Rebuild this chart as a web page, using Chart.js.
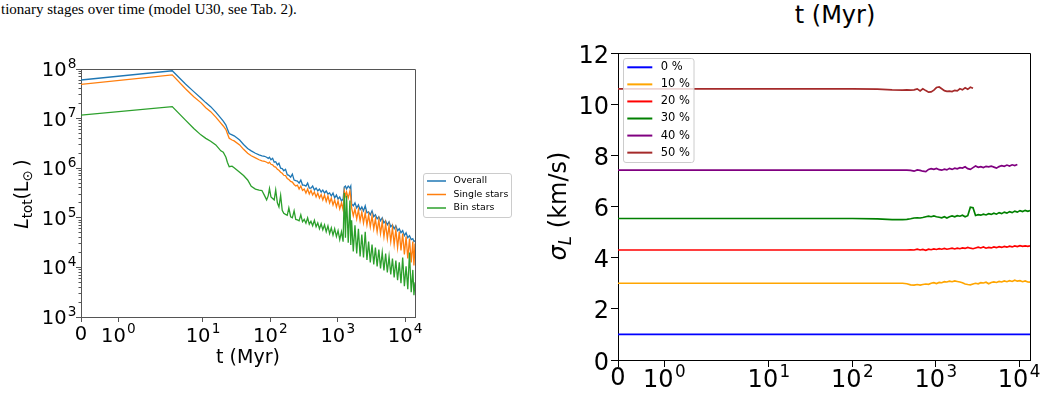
<!DOCTYPE html>
<html><head><meta charset="utf-8">
<script src="https://cdn.jsdelivr.net/npm/chart.js@4.4.1/dist/chart.umd.min.js"></script>
<style>
html,body{margin:0;padding:0;background:#fff;}
body{width:1046px;height:394px;position:relative;overflow:hidden;}
#caption{position:absolute;left:1px;top:2px;font:15px/15px "Liberation Serif";white-space:nowrap;color:#000;}
#toptitle{position:absolute;top:3px;left:835px;transform:translateX(-50%);font:24px/24px "DejaVu Sans";white-space:nowrap;color:#000;}
#lumWrap{position:absolute;left:0;top:0;width:530px;height:394px;}
#velWrap{position:absolute;left:530px;top:0;width:516px;height:394px;}
canvas{display:block;}
</style></head><body>
<div id="caption">tionary stages over time (model U30, see Tab. 2).</div>
<div id="toptitle">t (Myr)</div>
<div id="lumWrap"><canvas id="lum" width="530" height="394"></canvas></div>
<div id="velWrap"><canvas id="vel" width="516" height="394"></canvas></div>
<script>
// ---------------- DATA ----------------
const timeTickValues = [0, 1, 10, 100, 1000, 10000];
const timeTickLabels = ['0', '10^0', '10^1', '10^2', '10^3', '10^4'];
const lumTickValues = [1e3, 1e4, 1e5, 1e6, 1e7, 1e8];
const lumTickLabels = ['10^3', '10^4', '10^5', '10^6', '10^7', '10^8'];
const velTickValues = [0, 2, 4, 6, 8, 10, 12];
const velTickLabels = ['0', '2', '4', '6', '8', '10', '12'];

const lumLabels = ['Overall', 'Single stars', 'Bin stars'];
const lumTimes = [0, 3.5, 5.5, 7.3, 9.3, 11, 13, 15.5, 18.4, 20,
  21.9, 23, 24.5, 27, 29, 35, 40, 46, 52, 60,
  68, 75, 82, 88, 93, 97, 102, 108, 114, 120,
  127, 134, 142, 150, 158, 168, 178, 188, 200, 212,
  225, 238, 252, 267, 283, 300, 318, 337, 357, 378,
  400, 424, 450, 477, 505, 535, 567, 600, 636, 674,
  715, 757, 802, 850, 900, 955, 1010, 1070, 1135, 1200,
  1250, 1300, 1350, 1430, 1515, 1560, 1605, 1700, 1800, 1910,
  2025, 2145, 2275, 2410, 2555, 2710, 2870, 3040, 3225, 3420,
  3620, 3840, 4070, 4310, 4570, 4845, 5135, 5440, 5770, 6115,
  6480, 6870, 7280, 7720, 8180, 8670, 9190, 9740, 10320, 10940,
  11600, 12300, 13000, 13500, 14000];
const overallLum = [6.0e7, 9.2e7, 5.0e7, 3.5e7, 2.6e7, 2.1e7, 1.74e7, 1.35e7, 1.02e7, 8.9e6,
  7.4e6, 6.2e6, 5.0e6, 4.7e6, 4.5e6, 3.7e6, 3.0e6, 2.5e6, 2.24e6, 2.0e6,
  1.86e6, 1.78e6, 1.74e6, 1.66e6, 1.58e6, 1.66e6, 1.48e6, 1.58e6, 1.32e6, 1.35e6,
  1.17e6, 1.26e6, 1.0e6, 9.8e5, 8.9e5, 9.5e5, 7.4e5, 7.2e5, 6.6e5, 7.6e5,
  5.75e5, 5.6e5, 5.5e5, 5.0e5, 5.75e5, 4.57e5, 4.57e5, 4.37e5, 5.0e5, 3.98e5,
  3.98e5, 4.37e5, 3.63e5, 3.98e5, 3.47e5, 3.8e5, 3.31e5, 3.63e5, 3.16e5, 3.47e5,
  3.02e5, 3.16e5, 2.75e5, 3.16e5, 2.51e5, 2.88e5, 2.4e5, 2.63e5, 2.19e5, 2.4e5,
  4.17e5, 4.37e5, 3.8e5, 4.37e5, 3.98e5, 4.37e5, 1.91e5, 1.74e5, 2.0e5, 1.58e5,
  1.82e5, 1.45e5, 1.66e5, 1.38e5, 1.74e5, 1.26e5, 1.32e5, 1.15e5, 1.38e5, 1.05e5,
  1.15e5, 9.55e4, 1.05e5, 8.7e4, 1.0e5, 7.9e4, 8.7e4, 7.2e4, 8.3e4, 6.6e4,
  7.2e4, 6.0e4, 6.9e4, 5.5e4, 6.0e4, 5.0e4, 5.5e4, 4.37e4, 5.0e4, 3.98e4,
  4.37e4, 3.63e4, 3.8e4, 3.31e4, 3.47e4];
const singleLum = [4.9e7, 7.6e7, 4.0e7, 2.75e7, 2.1e7, 1.66e7, 1.38e7, 1.07e7, 8.1e6, 7.1e6,
  6.0e6, 5.0e6, 4.0e6, 3.7e6, 3.55e6, 2.95e6, 2.4e6, 2.0e6, 1.78e6, 1.62e6,
  1.48e6, 1.41e6, 1.38e6, 1.32e6, 1.26e6, 1.32e6, 1.2e6, 1.17e6, 1.07e6, 1.05e6,
  9.5e5, 9.1e5, 8.3e5, 7.9e5, 7.2e5, 7.1e5, 6.2e5, 5.9e5, 5.4e5, 5.25e5,
  4.7e5, 4.37e5, 4.57e5, 3.8e5, 4.37e5, 3.55e5, 3.8e5, 3.16e5, 3.8e5, 3.02e5,
  3.55e5, 2.88e5, 3.31e5, 2.63e5, 3.16e5, 2.51e5, 2.95e5, 2.29e5, 2.88e5, 2.14e5,
  2.75e5, 2.0e5, 2.51e5, 1.82e5, 2.29e5, 1.66e5, 2.19e5, 1.51e5, 2.0e5, 1.45e5,
  3.47e5, 2.75e5, 3.31e5, 2.51e5, 3.47e5, 2.63e5, 1.58e5, 1.1e5, 1.51e5, 9.55e4,
  1.45e5, 8.7e4, 1.32e5, 7.9e4, 1.26e5, 7.2e4, 1.15e5, 6.6e4, 1.1e5, 6.0e4,
  9.55e4, 5.25e4, 9.1e4, 4.8e4, 8.3e4, 4.17e4, 7.6e4, 3.8e4, 6.9e4, 3.31e4,
  6.3e4, 2.88e4, 5.75e4, 2.51e4, 5.25e4, 2.19e4, 4.8e4, 1.82e4, 4.17e4, 1.51e4,
  3.8e4, 1.26e4, 3.31e4, 1.1e4, 3.02e4];
const binLum = [1.17e7, 1.74e7, 9.3e6, 6.3e6, 4.7e6, 4.0e6, 3.5e6, 2.95e6, 2.24e6, 2.1e6,
  1.66e6, 1.32e6, 1.07e6, 1.1e6, 1.02e6, 8.3e5, 7.1e5, 5.8e5, 4.3e5, 3.8e5,
  3.6e5, 3.55e5, 2.8e5, 2.3e5, 2.8e5, 3.9e5, 2.63e5, 2.45e5, 2.29e5, 3.63e5,
  2.0e5, 1.66e5, 2.82e5, 1.41e5, 1.23e5, 1.17e5, 1.12e5, 1.58e5, 1.05e5, 1.0e5,
  1.38e5, 9.3e4, 9.1e4, 8.7e4, 1.15e5, 8.3e4, 9.3e4, 7.8e4, 1.0e5, 7.4e4,
  8.5e4, 6.9e4, 8.9e4, 6.6e4, 7.9e4, 6.0e4, 7.6e4, 5.75e4, 7.2e4, 5.25e4,
  6.9e4, 4.8e4, 6.3e4, 4.47e4, 6.0e4, 4.17e4, 5.5e4, 3.63e4, 5.25e4, 3.31e4,
  3.16e5, 3.98e4, 2.82e5, 3.16e4, 2.24e5, 2.82e4, 8.9e4, 2.09e4, 7.1e4, 1.91e4,
  6.0e4, 1.66e4, 4.57e4, 1.58e4, 5.25e4, 1.41e4, 3.31e4, 1.26e4, 2.88e4, 1.15e4,
  2.51e4, 1.05e4, 2.29e4, 9.55e3, 2.0e4, 8.7e3, 1.91e4, 7.9e3, 1.66e4, 7.2e3,
  1.51e4, 6.3e3, 1.38e4, 5.5e3, 1.26e4, 4.8e3, 1.58e4, 4.17e3, 1.05e4, 3.63e3,
  2.0e4, 3.16e3, 8.9e3, 2.75e3, 5.0e3];

const velLabels = ['0 %', '10 %', '20 %', '30 %', '40 %', '50 %'];
const velTimes = [0, 10, 100, 200, 300, 400, 450, 500, 550, 600,
  650, 700, 760, 820, 880, 950, 1020, 1100, 1180, 1270,
  1360, 1460, 1570, 1690, 1810, 1950, 2090, 2250, 2420, 2600,
  2800, 3000, 3230, 3470, 3730, 4010, 4310, 4630, 4980, 5350,
  5750, 6180, 6640, 7140, 7670, 8250, 8860, 9520, 10230, 11000,
  11820, 12700, 13500];
const sigma0 = [1.0, 1.0, 1.0, 1.0, 1.0, 1.0, 1.0, 1.0, 1.0, 1.0,
  1.0, 1.0, 1.0, 1.0, 1.0, 1.0, 1.0, 1.0, 1.0, 1.0,
  1.0, 1.0, 1.0, 1.0, 1.0, 1.0, 1.0, 1.0, 1.0, 1.0,
  1.0, 1.0, 1.0, 1.0, 1.0, 1.0, 1.0, 1.0, 1.0, 1.0,
  1.0, 1.0, 1.0, 1.0, 1.0, 1.0, 1.0, 1.0, 1.0, 1.0,
  1.0, 1.0, 1.0];
const sigma10 = [3.0, 3.0, 3.0, 3.0, 3.0, 3.0, 2.98, 2.94, 2.93, 2.95,
  2.93, 2.95, 2.97, 2.96, 3.0, 3.02, 2.99, 3.03, 3.02, 3.06,
  3.05, 3.08, 3.06, 3.09, 3.07, 3.05, 3.02, 2.97, 2.95, 2.94,
  2.97, 3.0, 2.98, 3.02, 3.01, 3.04, 2.98, 3.03, 3.05, 3.03,
  3.07, 3.05, 3.09, 3.06, 3.1, 3.07, 3.12, 3.08, 3.1, 3.06,
  3.09, 3.05, 3.04];
const sigma20 = [4.3, 4.3, 4.3, 4.3, 4.3, 4.3, 4.3, 4.31, 4.3, 4.33,
  4.3, 4.32, 4.29, 4.33, 4.31, 4.34, 4.32, 4.35, 4.33, 4.36,
  4.33, 4.35, 4.37, 4.34, 4.37, 4.35, 4.38, 4.36, 4.4, 4.37,
  4.35, 4.38, 4.41, 4.38, 4.42, 4.37, 4.4, 4.38, 4.42, 4.39,
  4.43, 4.4, 4.44, 4.41, 4.45, 4.42, 4.46, 4.43, 4.47, 4.44,
  4.46, 4.44, 4.46];
const sigma30 = [5.53, 5.53, 5.53, 5.52, 5.49, 5.49, 5.5, 5.52, 5.55, 5.56,
  5.55, 5.57, 5.6, 5.62, 5.6, 5.63, 5.6, 5.58, 5.56, 5.6,
  5.55, 5.6, 5.63, 5.6, 5.64, 5.62, 5.66, 5.6, 5.64, 5.97,
  5.95, 5.65, 5.68, 5.66, 5.7, 5.67, 5.72, 5.69, 5.74, 5.7,
  5.76, 5.72, 5.78, 5.74, 5.8, 5.76, 5.82, 5.78, 5.84, 5.8,
  5.85, 5.81, 5.84];
const sigma40 = [7.42, 7.42, 7.42, 7.42, 7.42, 7.42, 7.42, 7.41, 7.38, 7.43,
  7.41, 7.38, 7.36, 7.45, 7.48, 7.45, 7.49, 7.44, 7.42, 7.46,
  7.43, 7.49, 7.45, 7.5, 7.47, 7.52, 7.5, 7.55, 7.48, 7.45,
  7.52, 7.58, 7.53, 7.56, 7.52, 7.57, 7.55, 7.58, 7.54, 7.5,
  7.56, 7.6, 7.57, 7.62, 7.58, 7.63, 7.6, 7.64];
const sigma50 = [10.6, 10.6, 10.6, 10.59, 10.56, 10.55, 10.56, 10.55, 10.56, 10.6,
  10.52, 10.6, 10.53, 10.47, 10.48, 10.55, 10.65, 10.67, 10.6, 10.53,
  10.5, 10.51, 10.49, 10.54, 10.52, 10.6, 10.56, 10.64, 10.58, 10.66,
  10.62];

// ---------------- SYMLOG SCALE (linthresh 2, linscale 1) ----------------
const LINTHRESH = 2, LINSCALE_ADJ = 1 / (1 - 1 / 10);
function symlogT(v) {
  const s = Math.sign(v), a = Math.abs(v);
  if (a <= LINTHRESH) return v * LINSCALE_ADJ;
  return s * LINTHRESH * (LINSCALE_ADJ + Math.log10(a / LINTHRESH));
}
function symlogInv(y) {
  const s = Math.sign(y), a = Math.abs(y);
  if (a <= LINTHRESH * LINSCALE_ADJ) return y / LINSCALE_ADJ;
  return s * LINTHRESH * Math.pow(10, a / LINTHRESH - LINSCALE_ADJ);
}
class SymlogScale extends Chart.Scale {
  determineDataLimits() {
    const mm = this.getMinMax(false);
    const o = this.options;
    this.min = (typeof o.min === 'number') ? o.min : mm.min;
    this.max = (typeof o.max === 'number') ? o.max : mm.max;
  }
  buildTicks() { return []; }
  getLabelForValue(v) { return String(v); }
  configure() {
    super.configure();
    this._t0 = symlogT(this.min);
    this._t1 = symlogT(this.max);
  }
  getPixelForValue(v) {
    return this.getPixelForDecimal((symlogT(v) - this._t0) / (this._t1 - this._t0));
  }
  getValueForPixel(p) {
    return symlogInv(this._t0 + this.getDecimalForPixel(p) * (this._t1 - this._t0));
  }
}
SymlogScale.id = 'symlog';
SymlogScale.defaults = {};
Chart.register(SymlogScale);

// ---------------- PLUGINS ----------------
const FAM = "'DejaVu Sans'";
function alignPx(p) { return Math.round(p - 0.5) + 0.5; }
const framePlugin = {
  id: 'frame',
  afterDatasetsDraw(chart, args, o) {
    const a = chart.chartArea, ctx = chart.ctx;
    ctx.save();
    ctx.strokeStyle = o.color || '#000';
    ctx.lineWidth = 1;
    ctx.beginPath();
    const t = alignPx(a.top), r = alignPx(a.right);
    ctx.moveTo(a.left, t); ctx.lineTo(r, t); ctx.lineTo(r, a.bottom);
    ctx.stroke();
    ctx.restore();
  }
};
const minorTicksPlugin = {
  id: 'minorTicks',
  afterDraw(chart, args, o) {
    if (!o.enabled) return;
    const y = chart.scales.y, ctx = chart.ctx, left = chart.chartArea.left;
    ctx.save();
    ctx.strokeStyle = o.color; ctx.lineWidth = 1;
    ctx.beginPath();
    for (let k = 0; k < lumTickValues.length - 1; k++) {
      for (let m = 2; m < 10; m++) {
        const py = alignPx(y.getPixelForValue(m * lumTickValues[k]));
        ctx.moveTo(left - o.len, py); ctx.lineTo(left, py);
      }
    }
    ctx.stroke();
    ctx.restore();
  }
};
// tick labels with true superscripts ("10^3"), placed at the scale's own tick pixels
function drawPowLabel(ctx, label, size, x, y, align) {
  const parts = label.split('^');
  const base = parts[0], exp = parts[1];
  const ss = size * 0.7, gap = exp !== undefined ? size * 0.06 : 0;
  ctx.font = size + 'px ' + FAM;
  const wb = ctx.measureText(base).width;
  let we = 0;
  if (exp !== undefined) { ctx.font = ss + 'px ' + FAM; we = ctx.measureText(exp).width; }
  const W = wb + gap + we;
  const x0 = align === 'center' ? x - W / 2 : (align === 'right' ? x - W : x);
  ctx.font = size + 'px ' + FAM;
  ctx.fillText(base, x0, y);
  if (exp !== undefined) {
    ctx.font = ss + 'px ' + FAM;
    ctx.fillText(exp, x0 + wb + gap, y - 0.42 * size);
  }
}
const powLabelsPlugin = {
  id: 'powLabels',
  afterDraw(chart, args, o) {
    const ctx = chart.ctx;
    ctx.save();
    ctx.fillStyle = '#000'; ctx.textAlign = 'left'; ctx.textBaseline = 'alphabetic';
    const xs = chart.scales.x, ys = chart.scales.y;
    xs.ticks.forEach((t, i) => {
      const lab = o.x.labels[i];
      const base = lab.indexOf('^') >= 0 ? o.x.baseline : o.x.baseline + o.x.plainShift;
      drawPowLabel(ctx, lab, o.x.size, xs.getPixelForValue(t.value), base, 'center');
    });
    ys.ticks.forEach((t, i) => {
      const lab = o.y.labels[i];
      drawPowLabel(ctx, lab, o.y.size, o.y.right, ys.getPixelForValue(t.value) + o.y.baseOffset, 'right');
    });
    ctx.restore();
  }
};
const boxLegendPlugin = {
  id: 'boxLegend',
  afterDraw(chart, args, o) {
    if (!o.box) return;
    const ctx = chart.ctx, b = o.box, r = 2.5;
    ctx.save();
    ctx.beginPath();
    ctx.moveTo(b.x + r, b.y);
    ctx.arcTo(b.x + b.w, b.y, b.x + b.w, b.y + b.h, r);
    ctx.arcTo(b.x + b.w, b.y + b.h, b.x, b.y + b.h, r);
    ctx.arcTo(b.x, b.y + b.h, b.x, b.y, r);
    ctx.arcTo(b.x, b.y, b.x + b.w, b.y, r);
    ctx.closePath();
    ctx.fillStyle = 'rgba(255,255,255,0.8)';
    ctx.fill();
    ctx.strokeStyle = '#cccccc'; ctx.lineWidth = 1;
    ctx.stroke();
    chart.data.datasets.forEach((ds, i) => {
      const yy = o.rowY0 + i * o.rowH;
      ctx.strokeStyle = ds.borderColor; ctx.lineWidth = o.lineWidth;
      ctx.beginPath(); ctx.moveTo(o.lineX0, yy); ctx.lineTo(o.lineX1, yy); ctx.stroke();
      ctx.fillStyle = '#000'; ctx.font = o.font; ctx.textBaseline = 'middle'; ctx.textAlign = 'left';
      ctx.fillText(ds.label, o.textX, yy);
    });
    ctx.restore();
  }
};
const richTitlePlugin = {
  id: 'richTitle',
  afterDraw(chart, args, o) {
    if (!o.pieces) return;
    const ctx = chart.ctx;
    ctx.save();
    ctx.fillStyle = '#000'; ctx.textBaseline = 'alphabetic'; ctx.textAlign = 'left';
    let W = 0;
    for (const p of o.pieces) { ctx.font = p.font; W += ctx.measureText(p.text).width; }
    ctx.translate(o.baseX, o.cy);
    ctx.rotate(-Math.PI / 2);
    let x = -W / 2;
    for (const p of o.pieces) {
      ctx.font = p.font;
      ctx.fillText(p.text, x, p.dy || 0);
      x += ctx.measureText(p.text).width;
    }
    ctx.restore();
  }
};

Chart.defaults.font.family = "'DejaVu Sans', sans-serif";
Chart.defaults.color = '#000';

// ---------------- LEFT CHART ----------------
const lumSeries = [
  { label: lumLabels[0], values: overallLum, color: '#1f77b4', order: 3 },
  { label: lumLabels[1], values: singleLum, color: '#ff7f0e', order: 2 },
  { label: lumLabels[2], values: binLum, color: '#2ca02c', order: 1 }
];
new Chart(document.getElementById('lum'), {
  type: 'line',
  data: {
    datasets: lumSeries.map(s => ({
      label: s.label,
      data: lumTimes.map((t, i) => ({ x: t, y: s.values[i] })),
      borderColor: s.color, borderWidth: 1.3, pointRadius: 0, tension: 0, order: s.order
    }))
  },
  options: {
    responsive: false, animation: false, devicePixelRatio: 1,
    layout: { padding: { left: 0, right: 115, top: 69, bottom: 25 } },
    plugins: {
      legend: { display: false }, tooltip: { enabled: false },
      frame: { color: '#555' },
      minorTicks: { enabled: true, color: '#555', len: 2.5 },
      powLabels: {
        x: { labels: timeTickLabels, size: 19.5, baseline: 341.5, plainShift: -2 },
        y: { labels: lumTickLabels, size: 19.5, right: 76.5, baseOffset: 7 }
      },
      boxLegend: {
        box: { x: 423.5, y: 173.5, w: 88, h: 44 },
        rowY0: 181, rowH: 13.5, lineX0: 427, lineX1: 446, textX: 453.5,
        font: "9.4px " + FAM, lineWidth: 1.5
      },
      richTitle: {
        baseX: 28, cy: 194,
        pieces: [
          { text: 'L', font: "italic 19px " + FAM },
          { text: 'tot', font: "13.3px " + FAM, dy: 4 },
          { text: '(L', font: "19px " + FAM },
          { text: '\u2299', font: "13.3px " + FAM, dy: 4 },
          { text: '\u2009)', font: "19px " + FAM }
        ]
      }
    },
    scales: {
      x: {
        type: 'symlog', min: 0, max: 14000,
        afterBuildTicks: s => { s.ticks = timeTickValues.map(v => ({ value: v })); },
        afterFit: s => { s.height = 52; },
        ticks: { display: false, autoSkip: false, maxRotation: 0 },
        grid: { drawOnChartArea: false, tickLength: 5, color: '#555' },
        border: { color: '#555' },
        title: { display: true, text: 't (Myr)', font: { size: 19 }, padding: { top: 0, bottom: 0 } }
      },
      y: {
        type: 'logarithmic', min: 1e3, max: 1e8,
        afterBuildTicks: s => { s.ticks = lumTickValues.map(v => ({ value: v })); },
        afterFit: s => { s.width = 81; },
        ticks: { display: false, autoSkip: false },
        grid: { drawOnChartArea: false, tickLength: 5, color: '#555' },
        border: { color: '#555' }
      }
    }
  },
  plugins: [framePlugin, minorTicksPlugin, powLabelsPlugin, boxLegendPlugin, richTitlePlugin]
});

// ---------------- RIGHT CHART ----------------
const velSeries = [
  { label: velLabels[0], values: sigma0, color: '#0000ff' },
  { label: velLabels[1], values: sigma10, color: '#ffa500' },
  { label: velLabels[2], values: sigma20, color: '#ff0000' },
  { label: velLabels[3], values: sigma30, color: '#008000' },
  { label: velLabels[4], values: sigma40, color: '#800080' },
  { label: velLabels[5], values: sigma50, color: '#a52a2a' }
];
new Chart(document.getElementById('vel'), {
  type: 'line',
  data: {
    datasets: velSeries.map((s, k) => ({
      label: s.label,
      data: s.values.map((v, i) => ({ x: velTimes[i], y: v })),
      borderColor: s.color, borderWidth: 1.7, pointRadius: 0, tension: 0, order: 6 - k
    }))
  },
  options: {
    responsive: false, animation: false, devicePixelRatio: 1,
    layout: { padding: { left: 0, right: 16, top: 53, bottom: 0 } },
    plugins: {
      legend: { display: false }, tooltip: { enabled: false },
      frame: { color: '#000' },
      minorTicks: { enabled: false },
      powLabels: {
        x: { labels: timeTickLabels, size: 24, baseline: 387, plainShift: -2 },
        y: { labels: velTickLabels, size: 24, right: 79, baseOffset: 9.5 }
      },
      boxLegend: {
        box: { x: 93.5, y: 58.5, w: 70.5, h: 104 },
        rowY0: 67.3, rowH: 17.07, lineX0: 97.3, lineX1: 122.3, textX: 130.7,
        font: "11.5px " + FAM, lineWidth: 2
      },
      richTitle: {
        baseX: 36, cy: 206,
        pieces: [
          { text: '\u03C3', font: "italic 24px " + FAM },
          { text: 'L', font: "italic 16.8px " + FAM, dy: 5 },
          { text: ' (km/s)', font: "24px " + FAM }
        ]
      }
    },
    scales: {
      x: {
        type: 'symlog', min: 0, max: 13500,
        afterBuildTicks: s => { s.ticks = timeTickValues.map(v => ({ value: v })); },
        afterFit: s => { s.height = 34; },
        ticks: { display: false, autoSkip: false, maxRotation: 0 },
        grid: { drawOnChartArea: false, tickLength: 7, color: '#000' },
        border: { color: '#000' }
      },
      y: {
        type: 'linear', min: 0, max: 12,
        afterBuildTicks: s => { s.ticks = velTickValues.map(v => ({ value: v })); },
        afterFit: s => { s.width = 88; },
        ticks: { display: false, autoSkip: false },
        grid: { drawOnChartArea: false, tickLength: 7, color: '#000' },
        border: { color: '#000' }
      }
    }
  },
  plugins: [framePlugin, powLabelsPlugin, boxLegendPlugin, richTitlePlugin]
});
</script>
</body></html>
